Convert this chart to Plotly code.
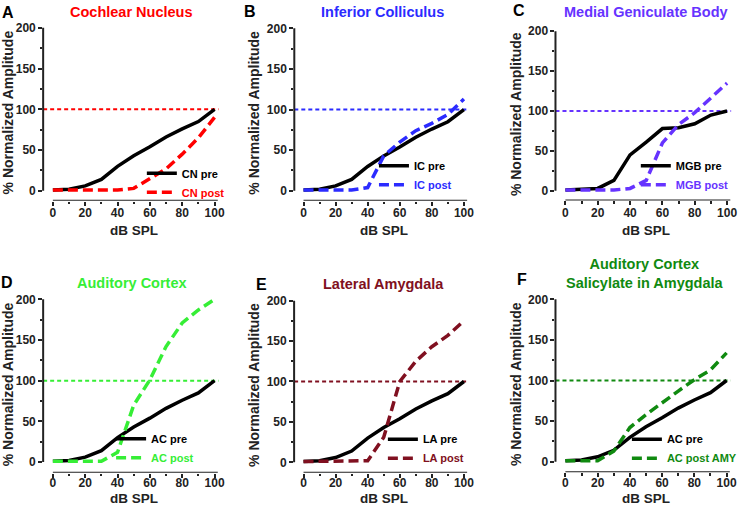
import plotly.graph_objects as go

W, H = 743, 507

# ---------------- data ----------------
db_spl = [0, 10, 20, 30, 40, 50, 60, 70, 80, 90, 100]
pre_amp = [1, 2, 6, 14, 30, 43, 54, 66, 76, 85, 100]
cn_post = [1, 1, 1, 1, 1, 3, 15, 27, 45, 65, 90]
ic_post = [1, 1, 1, 1, 4, 43, 60, 74, 83, 94, 113]
mgb_pre = [1, 2, 3, 13, 45, 61, 78, 79, 84, 95, 100]
mgb_post = [1, 1, 1, 1, 3, 13, 60, 83, 98, 117, 135]
ac_post = [1, 1, 1, 1, 12, 70, 101, 142, 171, 187, 200]
la_post = [1, 1, 1, 1, 2, 31, 100, 125, 143, 157, 175]
ac_amy_post = [1, 1, 1, 13, 42, 58, 73, 87, 101, 113, 134]
ref_level = 100

x_ticks = [0, 20, 40, 60, 80, 100]
x_minor = [10, 30, 50, 70, 90]
y_ticks = [0, 50, 100, 150, 200]
y_minor = [25, 75, 125, 175]
x_title = "dB SPL"
y_title = "% Normalized Amplitude"

panels = [
    dict(letter="A", title="Cochlear Nucleus", color="#FF0000",
         pre=pre_amp, post=cn_post, labels=("CN pre", "CN post")),
    dict(letter="B", title="Inferior Colliculus", color="#2B2BFF",
         pre=pre_amp, post=ic_post, labels=("IC pre", "IC post")),
    dict(letter="C", title="Medial Geniculate Body", color="#6633FF",
         pre=mgb_pre, post=mgb_post, labels=("MGB pre", "MGB post")),
    dict(letter="D", title="Auditory Cortex", color="#36EE36",
         pre=pre_amp, post=ac_post, labels=("AC pre", "AC post")),
    dict(letter="E", title="Lateral Amygdala", color="#801020",
         pre=pre_amp, post=la_post, labels=("LA pre", "LA post")),
    dict(letter="F", title="Auditory Cortex<br>Salicylate in Amygdala", color="#108A10",
         pre=pre_amp, post=ac_amy_post, labels=("AC pre", "AC post AMY")),
]

# pixel geometry of each panel (layout only)
geoms = [
    dict(yax=43.5, x0=53.3, x100=216.3, y0=188.3, y200=24.0, xline=198.3, xtitle=228, lab=-3,
         legx=184, legy=(174, 189), letter=(8.5, 8.5), title=(133, 8)),
    dict(yax=296.7, x0=306, x100=467.7, y0=188.3, y200=24.5, xline=198.3, xtitle=228, lab=-3,
         legx=418, legy=(166, 182), letter=(252.5, 7.5), title=(386, 8)),
    dict(yax=560, x0=570, x100=733, y0=188.3, y200=27.5, xline=198.0, xtitle=228, lab=-3,
         legx=682, legy=(166, 182), letter=(523, 6.5), title=(651, 8)),
    dict(yax=43.5, x0=53.3, x100=216.3, y0=461.7, y200=297.7, xline=472.5, xtitle=498, lab=-5,
         legx=153, legy=(441, 457), letter=(7.5, 281), title=(133, 281)),
    dict(yax=296.5, x0=306, x100=467.7, y0=462.0, y200=299.0, xline=472.5, xtitle=498, lab=-5,
         legx=427, legy=(442, 457), letter=(264, 283), title=(387, 282)),
    dict(yax=560, x0=570, x100=732.5, y0=461.3, y200=297.7, xline=472.0, xtitle=498, lab=-5,
         legx=673, legy=(442, 457), letter=(526, 277.5), title=(650, 272)),
]

FONT = "Liberation Sans, Arial, Helvetica, sans-serif"
AXC = "#222222"
XMAX = 102.5
YTOP = 204

fig = go.Figure()
layout = dict(width=W, height=H, margin=dict(l=0, r=0, t=0, b=0, pad=0),
              paper_bgcolor="white", plot_bgcolor="white", showlegend=True)
shapes, annotations = [], []

for i, (p, g) in enumerate(zip(panels, geoms), start=1):
    sfx = "" if i == 1 else str(i)
    xa, ya = "x" + sfx, "y" + sfx
    leg = "legend" + sfx

    fig.add_trace(go.Scatter(x=db_spl, y=p["pre"], mode="lines",
                             line=dict(color="black", width=3.5),
                             name=p["labels"][0], xaxis=xa, yaxis=ya, legend=leg))
    fig.add_trace(go.Scatter(x=db_spl, y=p["post"], mode="lines",
                             line=dict(color=p["color"], width=3.5, dash="10px,5px"),
                             name="<span style='color:%s'>%s</span>" % (p["color"], p["labels"][1]),
                             xaxis=xa, yaxis=ya, legend=leg))

    # x domain starts at the offset y-axis line, y domain bottom sits on the offset x-axis line
    s = (g["x100"] - g["x0"]) / 100.0
    xmin = -(g["x0"] - g["yax"]) / s
    dom_x = [g["yax"] / W, (g["x0"] + XMAX * s) / W]
    t = (g["y0"] - g["y200"]) / 200.0
    ymin = -(g["xline"] - g["y0"]) / t
    dom_y = [1 - g["xline"] / H, 1 - (g["y200"] - (YTOP - 200) * t) / H]

    tickfont = dict(family=FONT, size=12, color=AXC, weight="bold")
    titlefont = dict(family=FONT, size=14, color=AXC, weight="bold")

    layout["xaxis" + sfx] = dict(
        domain=dom_x, range=[xmin, XMAX], anchor=ya,
        showline=False, showgrid=False, zeroline=False,
        ticks="outside", ticklen=4, tickwidth=1.5, tickcolor=AXC,
        tickvals=x_ticks, tickfont=tickfont, ticklabelstandoff=g["lab"],
        minor=dict(tickvals=x_minor, ticks="outside", ticklen=2.5,
                   tickwidth=1.5, tickcolor=AXC, showgrid=False),
        fixedrange=True)
    layout["yaxis" + sfx] = dict(
        domain=dom_y, range=[ymin, YTOP], anchor=xa,
        showline=False, showgrid=False, zeroline=False,
        ticks="outside", ticklen=4, tickwidth=1.5, tickcolor=AXC,
        tickvals=y_ticks, tickfont=tickfont,
        minor=dict(tickvals=y_minor, ticks="outside", ticklen=2.5,
                   tickwidth=1.5, tickcolor=AXC, showgrid=False),
        title=dict(text=y_title, font=titlefont, standoff=3),
        fixedrange=True)

    # Prism-style separated axis lines
    shapes.append(dict(type="line", xref=xa + " domain", yref=ya,
                       x0=0, x1=0, y0=y_ticks[0], y1=y_ticks[-1],
                       line=dict(color=AXC, width=2)))
    shapes.append(dict(type="line", xref=xa, yref=ya,
                       x0=x_ticks[0], x1=XMAX - 0.5, y0=ymin, y1=ymin,
                       line=dict(color=AXC, width=2)))
    # 100 % reference line
    shapes.append(dict(type="line", xref=xa + " domain", yref=ya,
                       x0=0, x1=1, y0=ref_level, y1=ref_level, layer="below",
                       line=dict(color=p["color"], width=2, dash="4px,3px")))

    mid = (g["legy"][0] + g["legy"][1]) / 2.0
    layout[leg] = dict(x=(g["legx"] - 41) / W, y=1 - (mid - 25.5) / H,
                       xanchor="left", yanchor="top", bgcolor="rgba(0,0,0,0)",
                       borderwidth=0,
                       font=dict(family=FONT, size=11, color="black", weight="bold"))

    # x-axis title, centred under the 0..100 span
    annotations.append(dict(text=x_title, xref=xa, yref="paper",
                            x=(x_ticks[0] + x_ticks[-1]) / 2, y=1 - g["xtitle"] / H,
                            xanchor="center", yanchor="middle", showarrow=False,
                            font=dict(family=FONT, size=13.5, color=AXC, weight="bold")))
    annotations.append(dict(text=p["letter"], xref="paper", yref="paper",
                            x=g["letter"][0] / W, y=1 - g["letter"][1] / H,
                            xanchor="center", yanchor="middle", showarrow=False,
                            font=dict(family=FONT, size=16, color="black", weight="bold")))
    annotations.append(dict(text=p["title"], xref="paper", yref="paper",
                            x=g["title"][0] / W, y=1 - g["title"][1] / H,
                            xanchor="center", yanchor="middle", showarrow=False,
                            font=dict(family=FONT, size=14.5, color=p["color"], weight="bold")))

layout["shapes"] = shapes
layout["annotations"] = annotations
fig.update_layout(**layout)
fig.write_html("out.html",
               config={"displayModeBar": False},
               post_script="document.body.style.margin='0px';document.body.style.overflow='hidden';")
